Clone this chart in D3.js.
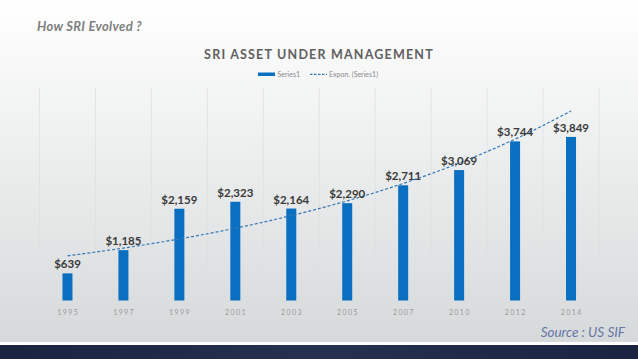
<!DOCTYPE html>
<html><head><meta charset="utf-8">
<script src="https://cdn.jsdelivr.net/npm/d3@7/dist/d3.min.js"></script>
<style>html,body{margin:0;padding:0;overflow:hidden;}svg{display:block;}</style>
</head><body>
<script>
const years = ["1995","1997","1999","2001","2003","2005","2007","2010","2012","2014"];
const values = [639,1185,2159,2323,2164,2290,2711,3069,3744,3849];
const valueLabels = ["$639","$1,185","$2,159","$2,323","$2,164","$2,290","$2,711","$3,069","$3,744","$3,849"];
const yDomain = [0,5000];

const W=638,H=359;
const svg=d3.select("body").append("svg").attr("width",W).attr("height",H);
const defs=svg.append("defs");
const bg=defs.append("linearGradient").attr("id","bg").attr("x1",0).attr("y1",0).attr("x2",0).attr("y2",1);
bg.append("stop").attr("offset","0%").attr("stop-color","#ffffff");
bg.append("stop").attr("offset","100%").attr("stop-color","#d6d9da");
const band=defs.append("linearGradient").attr("id","band").attr("x1",0).attr("y1",0).attr("x2",1).attr("y2",0);
band.append("stop").attr("offset","0%").attr("stop-color","#1a2340");
band.append("stop").attr("offset","50%").attr("stop-color","#263150");
band.append("stop").attr("offset","100%").attr("stop-color","#1a2340");

svg.append("rect").attr("width",W).attr("height",344).attr("fill","url(#bg)");
svg.append("rect").attr("y",342).attr("width",W).attr("height",3).attr("fill","#ffffff");
svg.append("rect").attr("y",345).attr("width",W).attr("height",14).attr("fill","url(#band)");

const x=d3.scaleBand().domain(years).range([39.5,599]).padding(0);
const y=d3.scaleLinear().domain(yDomain).range([300.5,88]);
const bw=10;

// vertical gridlines at band edges
const edges=years.map(d=>x(d)).concat([x(years[years.length-1])+x.bandwidth()]);
svg.append("g").selectAll("line").data(edges).join("line")
  .attr("x1",d=>d).attr("x2",d=>d).attr("y1",y(5000)).attr("y2",y(0))
  .attr("stroke","#e0e0e0").attr("stroke-width",0.8);

// bars
svg.append("g").selectAll("rect").data(values).join("rect")
  .attr("x",(d,i)=>x(years[i])+x.bandwidth()/2-bw/2)
  .attr("width",bw)
  .attr("y",d=>y(d)).attr("height",d=>y(0)-y(d))
  .attr("fill","#0b6fc1");

// exponential trendline (least-squares fit of ln(values))
const n=values.length;
const lx=d3.range(n), ly=values.map(Math.log);
const mx=d3.mean(lx), my=d3.mean(ly);
const b=d3.sum(lx.map((v,i)=>(v-mx)*(ly[i]-my)))/d3.sum(lx.map(v=>(v-mx)*(v-mx)));
const a=my-b*mx;
const trend=lx.map(i=>({i,v:Math.exp(a+b*i)}));
svg.append("path").datum(trend)
  .attr("d",d3.line().x(d=>x(years[d.i])+x.bandwidth()/2).y(d=>y(d.v)).curve(d3.curveMonotoneX))
  .attr("fill","none").attr("stroke","#3478b8").attr("stroke-width",1.2).attr("stroke-dasharray","3,2");

// value labels
svg.append("g").selectAll("text").data(values).join("text")
  .attr("x",(d,i)=>x(years[i])+x.bandwidth()/2)
  .attr("y",d=>y(d)-5)
  .attr("text-anchor","middle")
  .attr("font-family","Lato, sans-serif").attr("font-weight",700).attr("font-size",11.5)
  .attr("fill","#3a3a3a")
  .text((d,i)=>valueLabels[i]);

// x axis labels
svg.append("g").selectAll("text").data(years).join("text")
  .attr("x",d=>x(d)+x.bandwidth()/2+0.7)
  .attr("y",315)
  .attr("text-anchor","middle")
  .attr("font-family","Lato, sans-serif").attr("font-size",7)
  .attr("letter-spacing",1.4)
  .attr("fill","#9a9a9a")
  .text(d=>d);

// title
svg.append("text").attr("x",319).attr("y",58.5).attr("text-anchor","middle")
  .attr("font-family","Lato, sans-serif").attr("font-weight",700).attr("font-size",12.5)
  .attr("letter-spacing",1.2).attr("fill","#606060")
  .text("SRI ASSET UNDER MANAGEMENT");

// legend
svg.append("rect").attr("x",258).attr("y",72.5).attr("width",17).attr("height",3.5).attr("fill","#0b6fc1");
svg.append("text").attr("x",277.5).attr("y",76.8).attr("font-family","Lato, sans-serif").attr("font-size",7)
  .attr("fill","#8a8a8a").text("Series1");
svg.append("line").attr("x1",310).attr("x2",327).attr("y1",74.3).attr("y2",74.3)
  .attr("stroke","#3478b8").attr("stroke-width",1.2).attr("stroke-dasharray","2.5,1.5");
svg.append("text").attr("x",329).attr("y",76.8).attr("font-family","Lato, sans-serif").attr("font-size",7)
  .attr("fill","#8a8a8a").text("Expon. (Series1)");

// header
svg.append("text").attr("x",37).attr("y",31).attr("font-family","Lato, sans-serif")
  .attr("font-style","italic").attr("font-weight",700).attr("font-size",13)
  .attr("letter-spacing",0.3)
  .attr("fill","#7f7f7f").text("How SRI Evolved ?");

// source
svg.append("text").attr("x",625).attr("y",337).attr("text-anchor","end").attr("font-family","Lato, sans-serif")
  .attr("font-style","italic").attr("font-weight",400).attr("font-size",13.5)
  .attr("fill","#6676a8").text("Source : US SIF");
</script>
</body></html>
